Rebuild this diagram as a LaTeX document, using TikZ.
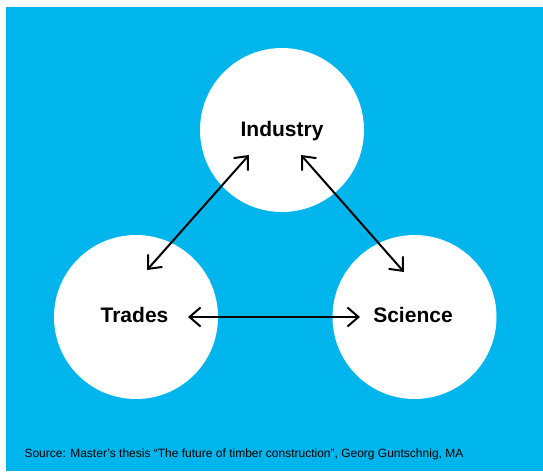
\documentclass[tikz,border=0pt]{standalone}
\usepackage{fontspec}
\setmainfont{Liberation Sans}
\usetikzlibrary{arrows.meta}

\definecolor{skyblue}{RGB}{0,181,236}

\begin{document}
\begin{tikzpicture}[x=1pt,y=-1pt,
  disc/.style={circle,fill=white,minimum size=164pt,inner sep=0pt},
  tag/.style={font=\bfseries\fontsize{21}{25}\selectfont},
  link/.style={line width=2pt,{Straight Barb[length=11pt,width=19pt]}-{Straight Barb[length=11pt,width=19pt]}}]

\useasboundingbox (0,0) rectangle (543,471);

%background
\fill[skyblue] (6,7) rectangle (543,471);

%%kreise
\node[disc] (industry) at (282,130) {};
\node[disc] (trades) at (136,317) {};
\node[disc] (science) at (414.5,317) {};

\node[tag] (industryT) at (282,131) {Industry};
\node[tag] (tradesT) at (134.5,315) {Trades};
\node[tag] (scienceT) at (413,315) {Science};

%pfeilenden
\coordinate (indL) at (249,155);
\coordinate (indR) at (301,155);
\coordinate (traT) at (147,270);
\coordinate (traR) at (188,317);
\coordinate (sciT) at (404,272);
\coordinate (sciL) at (360,317);

\draw[link] (indL) -- (traT);
\draw[link] (indR) -- (sciT);
\draw[link] (traR) -- (sciL);

%quelle
\node[anchor=base west,font=\fontsize{12}{14}\selectfont] (source) at (21,457)
  {Source: Master’s thesis “The future of timber construction”, Georg Guntschnig, MA};

\end{tikzpicture}
\end{document}
